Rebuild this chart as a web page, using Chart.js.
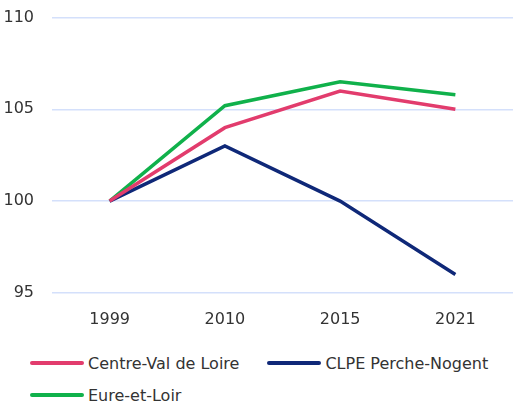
<!DOCTYPE html>
<html>
<head>
<meta charset="utf-8">
<script src="https://cdn.jsdelivr.net/npm/chart.js@4.4.1/dist/chart.umd.min.js"></script>
<style>
  html, body { margin: 0; padding: 0; background: #fff; }
  body { width: 513px; height: 407px; overflow: hidden; font-family: "DejaVu Sans", sans-serif; }
  #wrap { position: relative; top: -10px; width: 513px; height: 348px; }
  #legend { position: absolute; left: 30px; top: 353px; width: 483px; display: flex; flex-wrap: wrap; column-gap: 28px; row-gap: 12px; }
  .item { display: flex; align-items: center; height: 20px; font-size: 16px; color: #333; }
  .swatch { width: 54px; height: 4px; border-radius: 2px; margin-right: 4px; }
</style>
</head>
<body>
<div id="wrap"><canvas id="chart"></canvas></div>
<div id="legend"></div>
<script>
// Data
const years = ["1999", "2010", "2015", "2021"];
const centreValDeLoire = [100, 104, 106, 105];
const clpePercheNogent = [100, 103, 100, 96];
const eureEtLoir = [100, 105.2, 106.5, 105.8];
const yTicks = [95, 100, 105, 110];

const series = [
    { label: "Centre-Val de Loire", data: centreValDeLoire, color: "#E23C6D" },
    { label: "CLPE Perche-Nogent", data: clpePercheNogent, color: "#0F2878" },
    { label: "Eure-et-Loir", data: eureEtLoir, color: "#10B14B" },
];

// HTML legend below the canvas
const legendEl = document.getElementById("legend");
series.forEach((s) => {
    const item = document.createElement("div");
    item.className = "item";
    const sw = document.createElement("span");
    sw.className = "swatch";
    sw.style.background = s.color;
    const txt = document.createElement("span");
    txt.textContent = s.label;
    item.appendChild(sw);
    item.appendChild(txt);
    legendEl.appendChild(item);
});

const ctx = document.getElementById("chart").getContext("2d");

new Chart(ctx, {
    type: "line",
    data: {
        labels: years,
        datasets: series.map((s) => ({
            label: s.label,
            data: s.data,
            borderColor: s.color,
            backgroundColor: s.color,
            borderWidth: 3.5,
            pointRadius: 0,
            tension: 0,
        })),
    },
    options: {
        responsive: true,
        maintainAspectRatio: false,
        animation: false,
        layout: { padding: 0 },
        plugins: {
            legend: { display: false },
            tooltip: { enabled: false },
        },
        scales: {
            x: {
                offset: true,
                grid: { display: false },
                border: { display: false },
                ticks: {
                    color: "#333",
                    padding: 9,
                    maxRotation: 0,
                    font: { family: "DejaVu Sans", size: 16 },
                },
            },
            y: {
                min: 95,
                max: 110,
                afterBuildTicks: (axis) => {
                    axis.ticks = yTicks.map((v) => ({ value: v }));
                },
                afterFit: (axis) => {
                    axis.width = 52;
                },
                grid: { color: "#D4E0FB", lineWidth: 1.5, drawTicks: false },
                border: { display: false },
                ticks: {
                    color: "#333",
                    padding: 18,
                    font: { family: "DejaVu Sans", size: 16 },
                },
            },
        },
    },
});
</script>
</body>
</html>
